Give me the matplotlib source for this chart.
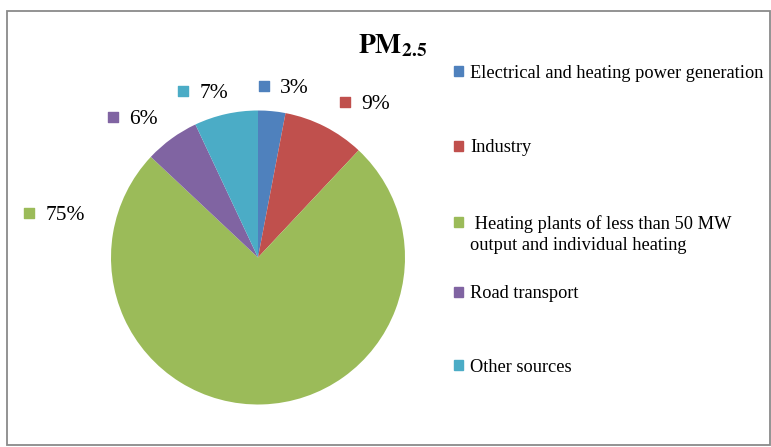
import matplotlib.pyplot as plt
from matplotlib.patches import Rectangle

plt.rcParams['font.family'] = ['Liberation Serif', 'DejaVu Serif']
plt.rcParams['mathtext.fontset'] = 'stix'

# 데이터
sources = ['Electrical and heating power generation',
           'Industry',
           ' Heating plants of less than 50 MW\noutput and individual heating',
           'Road transport',
           'Other sources']
shares = [3, 9, 75, 6, 7]
colors = ['#4F81BD', '#C0504D', '#9BBB59', '#8064A2', '#4BACC6']

W, H = 771, 447
fig = plt.figure(figsize=(W / 100, H / 100), dpi=100)

# 파이 위치 (픽셀 기준: 중심 258,257 / 반지름 147)
cx, cy, r = 258, 257.5, 147
ax = fig.add_axes([(cx - r) / W, (H - cy - r) / H, 2 * r / W, 2 * r / H])
ax.pie(shares, colors=colors, startangle=90, counterclock=False, radius=1,
       wedgeprops=dict(linewidth=0))
ax.set_xlim(-1, 1)
ax.set_ylim(-1, 1)
ax.set_aspect('equal')
ax.axis('off')

# 데이터 레이블 (엑셀 best fit 위치 흉내)
label_pos = [(0.041, 1.167), (0.592, 1.058), (-1.558, 0.303), (-0.986, 0.956), (-0.51, 1.133)]
for (lx, ly), val, c in zip(label_pos, shares, colors):
    ax.scatter([lx], [ly], marker='s', s=42, color=c, clip_on=False)
    ax.text(lx + 0.11, ly, f'{val}%', fontsize=15.5, va='center_baseline', ha='left')

# 제목
fig.text(358 / W, 1 - 46 / H, r'$\mathbf{PM}_{\mathbf{2.5}}$', fontsize=20, va='center', ha='left')

# 범례 (수동)
leg_y = [71, 146, 222, 292, 365]
for name, c, y in zip(sources, colors, leg_y):
    fig.patches.append(Rectangle(((458 - 4.5) / W, 1 - (y + 4.5) / H), 9.5 / W, 9.5 / H,
                                 transform=fig.transFigure, color=c, figure=fig))
    # 여러 줄 레이블은 줄마다 따로 (첫 줄을 마커에 맞춤)
    for k, line in enumerate(name.split('\n')):
        fig.text(470 / W, 1 - (y + k * 22) / H, line, fontsize=13.2,
                 va='center_baseline', ha='left')

# 테두리
fig.patches.append(Rectangle((7 / W, 1 - 445 / H), 763 / W, 434 / H, transform=fig.transFigure,
                             fill=False, edgecolor='#8a8a8a', linewidth=1.3, figure=fig))

plt.savefig('out.png', dpi=100)
